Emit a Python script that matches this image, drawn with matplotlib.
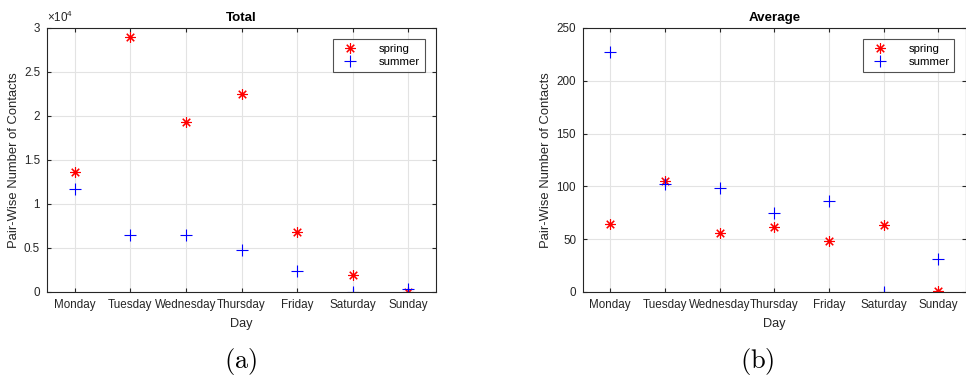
import numpy as np
import matplotlib.pyplot as plt
from matplotlib.ticker import FuncFormatter

plt.rcParams['font.family'] = ['Liberation Sans', 'DejaVu Sans']
plt.rcParams['mathtext.fontset'] = 'cm'

days = ['Monday', 'Tuesday', 'Wednesday', 'Thursday', 'Friday', 'Saturday', 'Sunday']

# total pair-wise contacts
total_spring = [13600, 29000, 19300, 22500, 6800, 1900, 50]
total_summer = [11700, 6500, 6500, 4800, 2400, 30, 350]

# average pair-wise contacts
avg_spring = [64, 105, 56, 62, 48, 63, 1]
avg_summer = [227, 102, 98, 75, 86, 0, 31]

edge = '#262626'
asterisk = (8, 2, 0)


def style_axes(ax, title):
    ax.set_xlim(0.5, 7.5)
    ax.set_xticks(np.arange(1, 8))
    ax.set_xticklabels(days)
    ax.tick_params(direction='in', top=True, right=True, labelsize=8.4,
                   colors=edge, length=3, pad=5)
    ax.grid(True, color='#e3e3e3', linewidth=0.8)
    ax.set_axisbelow(True)
    for s in ax.spines.values():
        s.set_color(edge)
        s.set_linewidth(0.8)
    ax.set_title(title, fontsize=9.6, fontweight='bold', pad=5)
    ax.set_xlabel('Day', fontsize=9.2, color=edge, labelpad=5)
    ax.set_ylabel('Pair-Wise Number of Contacts', fontsize=9.4, color=edge, labelpad=3)
    leg = ax.legend(loc='upper right', fontsize=8.2, frameon=True, fancybox=False,
                    edgecolor=edge, borderaxespad=1.0, handlelength=2.2,
                    handletextpad=1.4, borderpad=0.4, labelspacing=0.3)
    leg.get_frame().set_linewidth(0.8)


fig = plt.figure(figsize=(9.66, 3.81), dpi=100)
ax1 = fig.add_axes([0.0487, 0.2336, 0.4026, 0.693])
ax2 = fig.add_axes([0.6035, 0.2336, 0.396, 0.693])

x = np.arange(1, 8)

ax1.plot(x, total_spring, linestyle='none', marker=asterisk, color='red',
         markersize=7.5, markeredgewidth=0.8, label='spring')
ax1.plot(x, total_summer, linestyle='none', marker='+', color='blue',
         markersize=8, markeredgewidth=0.8, label='summer')
ax1.set_ylim(0, 30000)
ax1.set_yticks(np.arange(0, 30001, 5000))
ax1.yaxis.set_major_formatter(FuncFormatter(lambda v, p: '%g' % (v / 1e4)))
ax1.text(0.0, 1.01, '×10$\\mathregular{^4}$', transform=ax1.transAxes, fontsize=8.4,
         color=edge, ha='left', va='bottom')
style_axes(ax1, 'Total')

ax2.plot(x, avg_spring, linestyle='none', marker=asterisk, color='red',
         markersize=7.5, markeredgewidth=0.8, label='spring')
ax2.plot(x, avg_summer, linestyle='none', marker='+', color='blue',
         markersize=8, markeredgewidth=0.8, label='summer')
ax2.set_ylim(0, 250)
ax2.set_yticks(np.arange(0, 251, 50))
style_axes(ax2, 'Average')

fig.text(0.249, 0.01, r'$\mathrm{(a)}$', fontsize=19, ha='center', va='bottom')
fig.text(0.784, 0.01, r'$\mathrm{(b)}$', fontsize=19, ha='center', va='bottom')

fig.savefig('out.png', dpi=100)
